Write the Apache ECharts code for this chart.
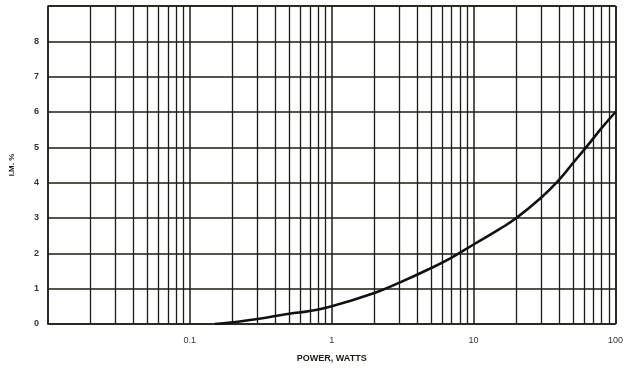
<!DOCTYPE html>
<html>
<head>
<meta charset="utf-8">
<script src="https://cdn.jsdelivr.net/npm/echarts@6/dist/echarts.min.js"></script>
<style>html,body{margin:0;padding:0;background:#fff}#c{width:626px;height:370px}</style>
</head>
<body>
<div id="c"></div>
<script>
// Curve: power (W) vs I.M. (%)
const powerW = [0.15, 0.2, 0.3, 0.5, 0.7, 1, 2, 3, 5, 7, 10, 15, 20, 30, 40, 50, 60, 70, 80, 100];
const imPct  = [0.0, 0.05, 0.14, 0.29, 0.37, 0.5, 0.88, 1.17, 1.58, 1.88, 2.25, 2.67, 3.0, 3.58, 4.08, 4.55, 4.93, 5.26, 5.55, 6.0];
const xTickLabels = ['0.1', '1', '10', '100'];
const yTickLabels = ['0','1','2','3','4','5','6','7','8'];
// log-paper vertical grid positions
const minorMultipliers = [2,3,4,5,6,7,8,9];
const decades = [0.01, 0.1, 1, 10];

const gridX = [];
decades.forEach(d => minorMultipliers.forEach(m => gridX.push(+(d*m).toPrecision(3))));

const ink = '#1c1c16';
const chart = echarts.init(document.getElementById('c'), null, {renderer:'canvas'});
chart.setOption({
  animation: false,
  grid: {left: 46, right: 9, top: 6, bottom: 46},
  xAxis: {
    type: 'log', logBase: 10, min: 0.01, max: 100,
    name: 'POWER, WATTS', nameLocation: 'middle', nameGap: 30,
    nameTextStyle: {fontFamily: 'Liberation Sans', fontWeight: 'bold', fontSize: 9, color: ink},
    axisLine: {show: true, lineStyle: {color: ink, width: 1.5}},
    axisTick: {show: false},
    axisLabel: {
      fontFamily: 'Liberation Sans', fontSize: 9, color: '#333', margin: 12,
      formatter: v => { const s = xTickLabels.find(t => Math.abs(parseFloat(t) - v) < 1e-9 * Math.max(1, v)); return s || ''; }
    },
    splitLine: {show: true, lineStyle: {color: ink, width: 1.5}}
  },
  yAxis: {
    type: 'value', min: 0, max: 9, interval: 1,
    name: 'I.M. %', nameLocation: 'middle', nameGap: 32, nameRotate: 90,
    nameTextStyle: {fontFamily: 'Liberation Sans', fontWeight: 'bold', fontSize: 8, color: ink},
    axisLine: {show: true, lineStyle: {color: ink, width: 1.5}},
    axisTick: {show: false},
    axisLabel: {
      fontFamily: 'Liberation Sans', fontWeight: 'bold', fontSize: 9, color: '#333', margin: 9,
      formatter: v => yTickLabels[v] !== undefined ? yTickLabels[v] : ''
    },
    splitLine: {show: true, lineStyle: {color: ink, width: 1.5}}
  },
  series: [{
    type: 'line',
    data: powerW.map((p, i) => [p, imPct[i]]),
    smooth: 0.5,
    showSymbol: false,
    lineStyle: {color: '#111', width: 2.6},
    z: 5,
    markLine: {
      silent: true, symbol: 'none', label: {show: false},
      lineStyle: {color: ink, width: 1.3, type: 'solid'},
      data: gridX.map(x => ({xAxis: x}))
    }
  }, {
    type: 'line', data: [], markLine: {
      silent: true, symbol: 'none', label: {show: false},
      lineStyle: {color: ink, width: 1.5, type: 'solid'},
      data: [{xAxis: 100}, {yAxis: 9}]
    }
  }]
});
</script>
</body>
</html>
